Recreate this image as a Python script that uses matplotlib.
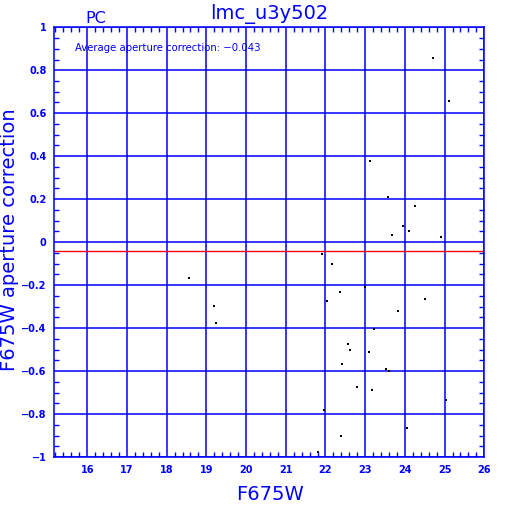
import matplotlib
matplotlib.use("Agg")
import matplotlib.pyplot as plt
from matplotlib.ticker import MultipleLocator, FixedLocator

# ---- data ----
mag = [24.70, 25.11, 23.11, 23.57, 24.25, 23.95, 24.10, 23.68, 24.91,
       21.92, 22.16, 18.56, 23.00, 22.37, 24.51, 22.03, 19.19, 23.82,
       19.23, 23.22, 22.57, 22.63, 23.09, 22.42, 23.52, 23.60, 22.80,
       23.17, 25.03, 21.96, 24.05, 22.40, 21.82]
corr = [0.856, 0.656, 0.378, 0.212, 0.170, 0.077, 0.054, 0.035, 0.023,
        -0.054, -0.100, -0.165, -0.211, -0.231, -0.265, -0.272, -0.298, -0.321,
        -0.377, -0.406, -0.476, -0.504, -0.509, -0.569, -0.589, -0.602, -0.676,
        -0.686, -0.737, -0.783, -0.867, -0.904, -0.979]
avg_corr = -0.043
xticks = [16, 17, 18, 19, 20, 21, 22, 23, 24, 25, 26]
xticklabels = ["16", "17", "18", "19", "20", "21", "22", "23", "24", "25", "26"]
yticks = [1, 0.8, 0.6, 0.4, 0.2, 0, -0.2, -0.4, -0.6, -0.8, -1]
yticklabels = ["1", "0.8", "0.6", "0.4", "0.2", "0", "\u22120.2", "\u22120.4",
               "\u22120.6", "\u22120.8", "\u22121"]
title = "lmc_u3y502"
chip = "PC"
xlabel = "F675W"
ylabel = "F675W aperture correction"

BLUE = (0, 0, 1)

fig = plt.figure(figsize=(5.12, 5.12), dpi=100)
ax = fig.add_axes([54.3/512, 1 - 457/512, 430/512, 429.7/512])

ax.set_xlim(15.17, 26)
ax.set_ylim(-1, 1)

ax.xaxis.set_major_locator(FixedLocator(xticks))
ax.yaxis.set_major_locator(FixedLocator(yticks))
ax.set_xticklabels(xticklabels)
ax.set_yticklabels(yticklabels)
ax.xaxis.set_minor_locator(MultipleLocator(0.2))
ax.yaxis.set_minor_locator(MultipleLocator(0.05))

ax.grid(True, which="major", color=BLUE, lw=1.1)
ax.set_axisbelow(True)
ax.tick_params(which="major", length=0, colors=BLUE, labelsize=7, pad=5.5)
ax.tick_params(which="minor", direction="in", length=3.4, width=1.0, color=BLUE,
               top=True, right=True, bottom=True, left=True)
for lab in ax.get_xticklabels() + ax.get_yticklabels():
    lab.set_fontweight("bold")
    lab.set_color(BLUE)
for s in ax.spines.values():
    s.set_color(BLUE)
    s.set_linewidth(1.1)

ax.axhline(avg_corr, color="red", lw=1.0, zorder=1.5)

ax.plot(mag, corr, ls="none", marker="s", ms=2.0, mfc="black", mec="black",
        mew=0, zorder=3)

ax.text(0.048, 0.945, "Average aperture correction: \u2212%.3f" % abs(avg_corr),
        transform=ax.transAxes, fontsize=7.3, color=BLUE, va="baseline", ha="left")

fig.text(269.5/512, 1 - 19/512, title, ha="center", va="baseline", fontsize=14, color=BLUE)
fig.text(85/512, 1 - 23.3/512, chip, ha="left", va="baseline", fontsize=11.5, color=BLUE)
fig.text(270/512, 1 - 500/512, xlabel, ha="center", va="baseline", fontsize=14, color=BLUE)
fig.text(10/512, 1 - 240/512, ylabel, ha="center", va="center", rotation=90,
         fontsize=14, color=BLUE)

fig.savefig("out.png", dpi=100, facecolor="white")
